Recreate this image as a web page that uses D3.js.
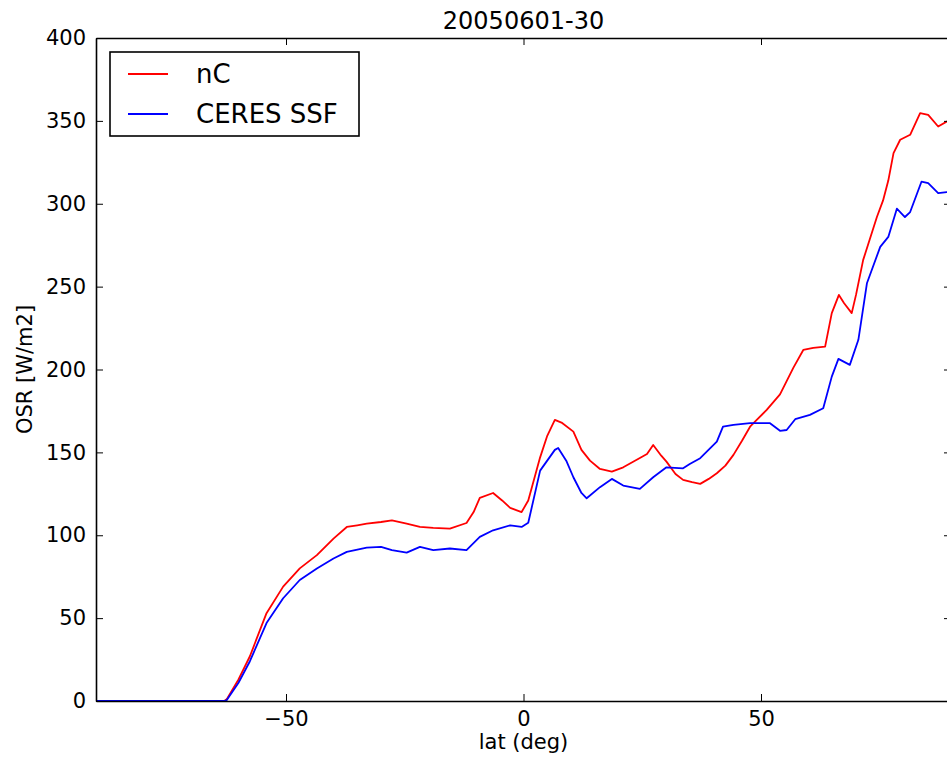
<!DOCTYPE html>
<html>
<head>
<meta charset="utf-8">
<script src="https://cdn.jsdelivr.net/npm/d3@7"></script>
<style>
  html, body { margin: 0; padding: 0; background: #fff; }
  text { font-family: "DejaVu Sans", sans-serif; fill: #000; }
</style>
</head>
<body>
<svg id="chart" width="947" height="761"></svg>
<script>
// ---- data ----
const title = "20050601-30";
const xLabel = "lat (deg)";
const yLabel = "OSR [W/m2]";
const seriesNames = ["nC", "CERES SSF"];
const seriesColors = ["#ff0000", "#0000ff"];
const xTicks = [-50, 0, 50];
const yTicks = [0, 50, 100, 150, 200, 250, 300, 350, 400];

const latNC = [-90, -63, -62.5, -60, -57.6, -54.1, -50.6, -47.1, -43.5, -40, -37.2, -35, -33, -30, -27.7, -24.6, -21.8, -19, -15.5, -12, -10.5, -9.2, -6.4, -4.5, -2.8, -0.4, 1, 3.5, 5, 6.6, 8, 10.5, 12.2, 14, 16.1, 18.6, 21, 24.5, 26, 27.3, 29, 30.1, 32, 33.6, 35.5, 37.2, 39, 40.7, 42.5, 44.2, 46, 47.7, 49.1, 51.2, 54, 55.4, 56.8, 58.9, 61, 63.5, 64.9, 66.4, 67.5, 69.1, 70, 71.5, 74.4, 75.7, 76.8, 77.9, 79.3, 81.4, 83.5, 85.2, 87.3, 89.1, 90];
const osrNC = [0, 0, 1, 13, 27, 53, 69, 80, 88, 98, 105, 106, 107, 108, 109, 107, 105, 104.4, 104, 107.4, 114, 122.5, 125.5, 121, 116.5, 114, 121, 147, 160, 169.6, 168, 162.5, 151.5, 145, 140, 138.4, 141, 146.6, 149, 154.5, 148, 144.4, 137, 133.4, 132, 131, 134, 137.4, 142, 148.5, 157, 165.5, 169.6, 175.6, 185, 193, 201, 211.8, 213, 213.8, 234, 245, 240, 234, 245, 266, 292, 302, 314, 330.5, 338.6, 341.6, 354.7, 353.6, 346.6, 349.6, 350];

const latCERES = [-90, -63, -62.5, -60, -57.6, -54.1, -50.6, -47.1, -43.5, -40, -37.2, -33, -30, -27.7, -24.6, -21.8, -19, -15.5, -12, -9.2, -6.4, -2.8, -0.4, 1, 3.5, 6.6, 7.3, 9, 10.5, 12.2, 13.3, 16.1, 18.6, 21, 24.5, 27.3, 30.1, 33.6, 35, 37.2, 40.7, 42, 44.2, 47.7, 51.9, 54, 55.4, 57.2, 60.3, 63.1, 64.9, 66.3, 68.7, 70.5, 72.3, 75.1, 76.8, 78.6, 80.3, 81.4, 83.8, 85.2, 87.3, 89.1, 90];
const osrCERES = [0, 0, 0.5, 11, 24, 47, 62, 73, 80, 86, 90, 92.5, 93, 91, 89.5, 93, 91, 92, 91, 99, 103, 106, 105, 107.5, 139, 151.5, 152.7, 145, 135, 125.5, 122.3, 129, 134, 130, 128, 135, 141, 140.4, 143, 146.5, 156.5, 165.5, 166.6, 167.6, 167.6, 163, 163.5, 170, 172.6, 176.6, 195.7, 206.4, 202.8, 217.9, 252, 274, 280, 297, 292, 295, 313.4, 312.4, 306.4, 307, 307];

// ---- layout ----
const svg = d3.select("#chart");
const mLeft = 96, mRight = 951, mTop = 38, mBottom = 701;
const x = d3.scaleLinear().domain([-90, 90]).range([mLeft, mRight]);
const y = d3.scaleLinear().domain([0, 400]).range([mBottom, mTop]);

svg.append("defs").append("clipPath").attr("id", "clip")
  .append("rect").attr("x", mLeft).attr("y", mTop).attr("width", mRight - mLeft).attr("height", mBottom - mTop);

const series = [
  { name: seriesNames[0], color: seriesColors[0], pts: latNC.map((d, i) => [d, osrNC[i]]) },
  { name: seriesNames[1], color: seriesColors[1], pts: latCERES.map((d, i) => [d, osrCERES[i]]) }
];

const line = d3.line().x(d => x(d[0])).y(d => y(d[1]));
const g = svg.append("g").attr("clip-path", "url(#clip)");
series.forEach(s => {
  g.append("path").attr("d", line(s.pts)).attr("fill", "none")
    .attr("stroke", s.color).attr("stroke-width", 1.8).attr("stroke-linejoin", "round");
});

// axes (matplotlib classic style: inward ticks on all four sides)
const tickLen = 7;
const fs = 21;
const axB = svg.append("g").attr("transform", `translate(0,${mBottom})`)
  .call(d3.axisBottom(x).tickValues(xTicks).tickSizeInner(-tickLen).tickSizeOuter(0).tickPadding(10)
    .tickFormat(d => d < 0 ? "\u2212" + Math.abs(d) : d));
const axT = svg.append("g").attr("transform", `translate(0,${mTop})`)
  .call(d3.axisTop(x).tickValues(xTicks).tickSizeInner(-tickLen).tickSizeOuter(0).tickFormat(""));
const axL = svg.append("g").attr("transform", `translate(${mLeft},0)`)
  .call(d3.axisLeft(y).tickValues(yTicks).tickSizeInner(-tickLen).tickSizeOuter(0).tickPadding(10));
const axR = svg.append("g").attr("transform", `translate(${mRight},0)`)
  .call(d3.axisRight(y).tickValues(yTicks).tickSizeInner(-tickLen).tickSizeOuter(0).tickFormat(""));
[axB, axT, axL, axR].forEach(a => {
  a.select(".domain").attr("stroke", "#000").attr("stroke-width", 1.6);
  a.selectAll(".tick line").attr("stroke", "#000").attr("stroke-width", 1);
  a.selectAll("text").attr("font-family", "DejaVu Sans, sans-serif").attr("font-size", fs).attr("fill", "#000");
});

// title and labels
svg.append("text").attr("x", (mLeft + mRight) / 2).attr("y", 29).attr("text-anchor", "middle")
  .attr("font-size", 24).text(title);
svg.append("text").attr("x", (mLeft + mRight) / 2).attr("y", 749).attr("text-anchor", "middle")
  .attr("font-size", fs).text(xLabel);
svg.append("text").attr("transform", `translate(32,${(mTop + mBottom) / 2}) rotate(-90)`)
  .attr("text-anchor", "middle").attr("font-size", fs).text(yLabel);

// legend
const lg = svg.append("g");
lg.append("rect").attr("x", 110).attr("y", 52).attr("width", 249).attr("height", 84)
  .attr("fill", "#fff").attr("stroke", "#000").attr("stroke-width", 1.6);
series.forEach((s, i) => {
  const yy = 74 + i * 40;
  lg.append("line").attr("x1", 128).attr("x2", 168).attr("y1", yy).attr("y2", yy)
    .attr("stroke", s.color).attr("stroke-width", 1.8);
  lg.append("text").attr("x", 196).attr("y", yy + 9).attr("font-size", 26).text(s.name);
});
</script>
</body>
</html>
